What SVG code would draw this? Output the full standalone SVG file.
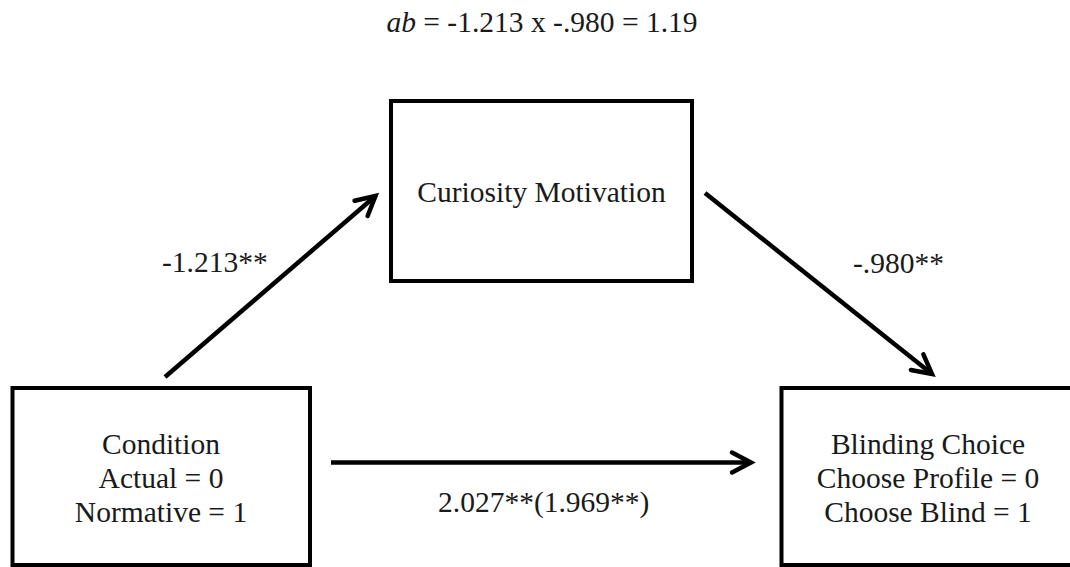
<svg xmlns="http://www.w3.org/2000/svg" width="1070" height="567" viewBox="0 0 1070 567">
<style>
  .box { fill: #ffffff; stroke: #000000; stroke-width: 4; }
  .t { font-family: "Liberation Serif", "Times New Roman", serif; font-size: 29.5px; fill: #1a1a1a; }
  .mid { text-anchor: middle; }
  .conn { stroke: #000000; stroke-width: 4.5; fill: none; }
</style>
<defs>
  <marker id="arr" markerUnits="userSpaceOnUse" orient="auto" refX="0" refY="0" markerWidth="40" markerHeight="40" viewBox="-30 -20 40 40" overflow="visible">
    <path d="M-19,-10 L0,0 L-19,10" fill="none" stroke="#000" stroke-width="4.5" stroke-linecap="round" stroke-linejoin="miter"/>
  </marker>
</defs>
<rect width="1070" height="567" fill="#ffffff"/>
<g id="title">
  <text class="t mid" x="542" y="32"><tspan font-style="italic">ab</tspan> = -1.213 x -.980 = 1.19</text>
</g>
<g id="node-curiosity">
  <rect class="box" x="391" y="101" width="301" height="180"/>
  <text class="t mid" x="541.5" y="202">Curiosity Motivation</text>
</g>
<g id="node-condition">
  <rect class="box" x="12.5" y="388" width="297.5" height="177"/>
  <text class="t mid" x="161" y="454">Condition</text>
  <text class="t mid" x="161" y="488">Actual = 0</text>
  <text class="t mid" x="161" y="522">Normative = 1</text>
</g>
<g id="node-blinding">
  <rect class="box" x="781.5" y="388" width="295" height="177"/>
  <text class="t mid" x="928" y="454">Blinding Choice</text>
  <text class="t mid" x="928" y="488">Choose Profile = 0</text>
  <text class="t mid" x="928" y="522">Choose Blind = 1</text>
</g>
<g id="connectors">
  <line class="conn" x1="165" y1="377" x2="375.5" y2="196" marker-end="url(#arr)"/>
  <line class="conn" x1="705" y1="193" x2="932" y2="374" marker-end="url(#arr)"/>
  <line class="conn" x1="331" y1="462.5" x2="751" y2="462.5" marker-end="url(#arr)"/>
</g>
<g id="labels">
  <text class="t" x="162" y="272">-1.213**</text>
  <text class="t" x="853" y="273">-.980**</text>
  <text class="t" x="438" y="512">2.027**(1.969**)</text>
</g>
</svg>
